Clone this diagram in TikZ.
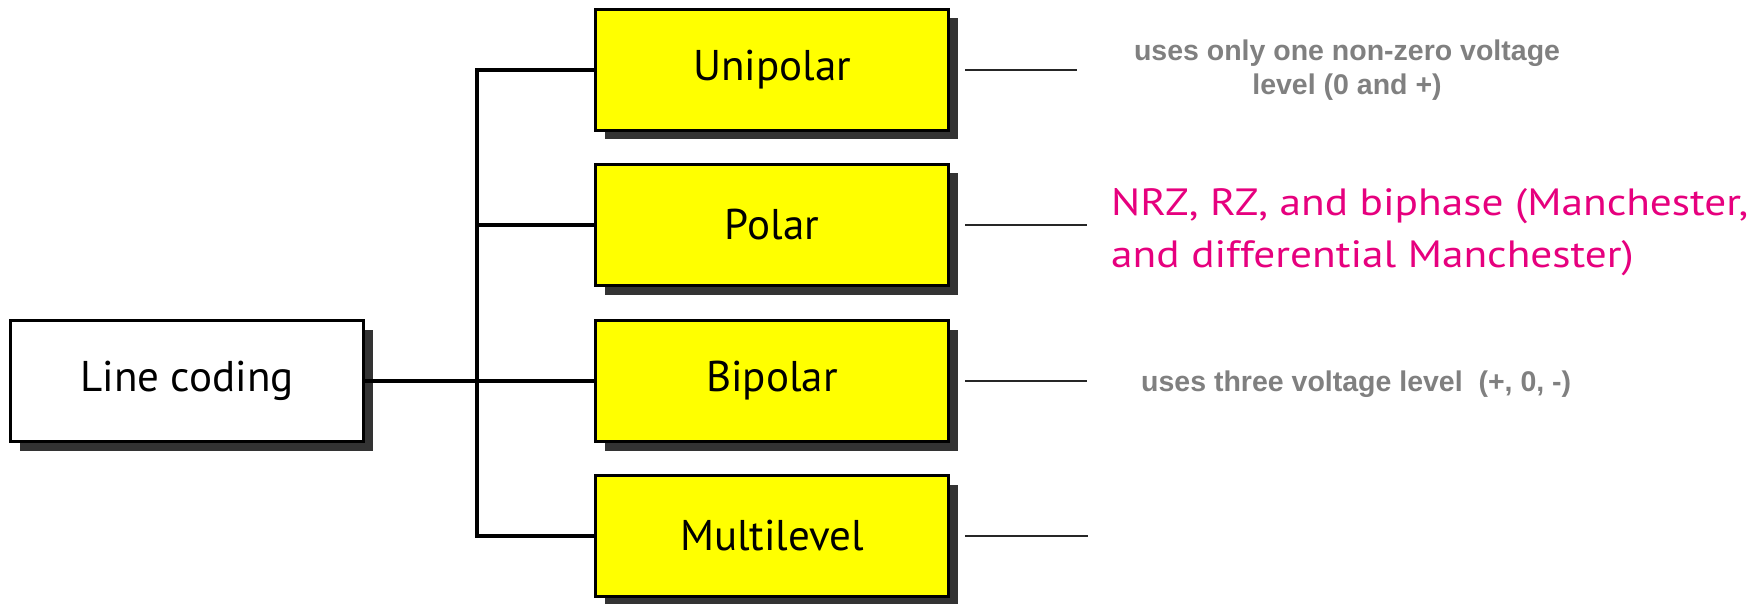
\documentclass[tikz,border=0pt]{standalone}
\usepackage{fontspec}
\setmainfont{PT Sans}
\newfontfamily\notefont{Liberation Sans}
\newfontfamily\pinkfont{PT Sans}[FakeStretch=1.14]
\usetikzlibrary{shadows}
\definecolor{boxyellow}{RGB}{255,255,0}
\definecolor{shadowgray}{RGB}{51,51,51}
\definecolor{notegray}{RGB}{128,128,128}
\definecolor{notepink}{RGB}{230,0,126}
\begin{document}
\begin{tikzpicture}[x=1pt,y=-1pt,
  box/.style={draw=black, line width=3pt, minimum width=353pt, minimum height=121pt,
    inner sep=0pt, font=\fontsize{43}{50}\selectfont,
    drop shadow={shadow xshift=9pt, shadow yshift=-9pt, fill=shadowgray, opacity=1}},
  codebox/.style={box, fill=boxyellow},
  rootbox/.style={box, fill=white},
  trunk/.style={line width=4pt},
  lead/.style={line width=2.5pt, draw=black!85},
  graynote/.style={font=\notefont\bfseries\fontsize{28.5}{34}\selectfont, text=notegray, inner sep=0pt},
  pinknote/.style={font=\pinkfont\fontsize{38}{52}\selectfont, text=notepink, inner sep=0pt}]
\useasboundingbox (0,0) rectangle (1756,604);

\node[rootbox] (lc) at (187,381) {Line coding};
\node[codebox] (uni) at (772,70) {Unipolar};
\node[codebox] (pol) at (772,225) {Polar};
\node[codebox] (bip) at (772,381) {Bipolar};
\node[codebox] (mul) at (772,536) {Multilevel};

\coordinate (tt) at (477,70);
\draw[trunk] (uni.west) -- (uni.west -| tt) -- (mul.west -| tt) -- (mul.west);
\draw[trunk] (pol.west -| tt) -- (pol.west);
\draw[trunk] (lc.east) -- (bip.west);

\coordinate (ue) at (1077,70);
\coordinate (pe) at (1087,225);
\coordinate (be) at (1087,381);
\coordinate (me) at (1088,536);
\draw[lead] ([xshift=15pt]uni.east) -- (ue);
\draw[lead] ([xshift=15pt]pol.east) -- (pe);
\draw[lead] ([xshift=15pt]bip.east) -- (be);
\draw[lead] ([xshift=15pt]mul.east) -- (me);

\node[graynote, align=center] (un) at (1347,70) {uses only one non-zero voltage\\level (0 and +)};
\node[pinknote, align=left, anchor=west] (pn) at (1111,232) {NRZ, RZ, and biphase (Manchester,\\and differential Manchester)};
\node[graynote, anchor=base west] (bn) at (1141,391) {uses three voltage level~~(+, 0, -)};
\end{tikzpicture}
\end{document}
